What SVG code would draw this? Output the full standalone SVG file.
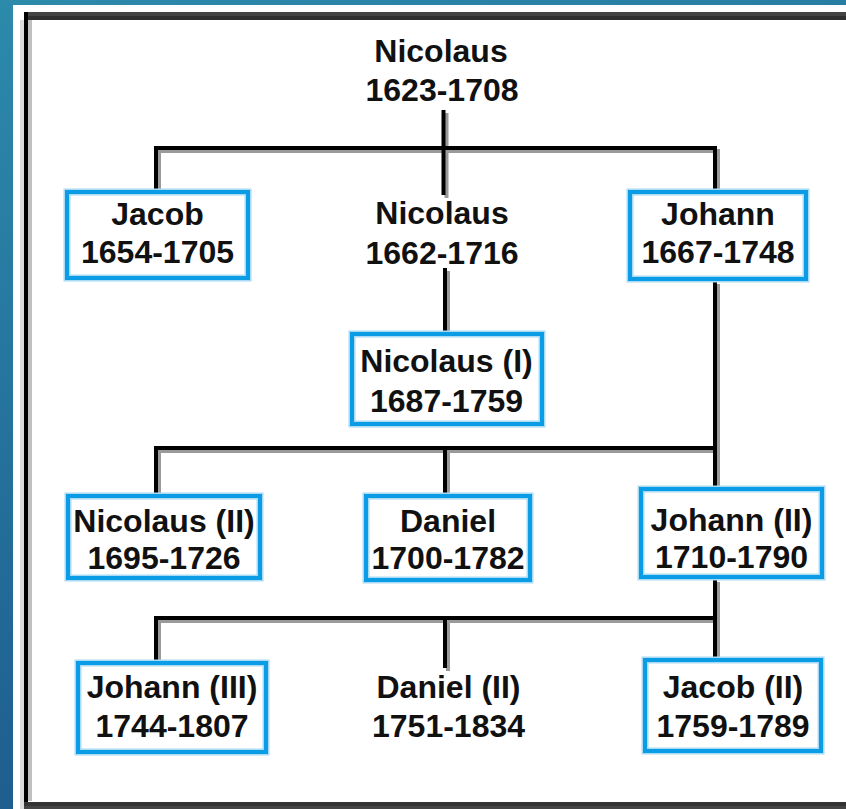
<svg xmlns="http://www.w3.org/2000/svg" xmlns:xlink="http://www.w3.org/1999/xlink" width="846" height="809" viewBox="0 0 846 809">
<style>
.t{font-family:"Liberation Sans",Arial,sans-serif;font-weight:bold;font-size:32px;fill:#111;text-anchor:middle}
.halo{fill:#fff;stroke:#a9daf5;stroke-width:7}
.box{fill:none;stroke:#0a9ce4;stroke-width:4}
.wire{fill:none;stroke:#000;stroke-width:4}
.shadow{fill:none;stroke:#9a9a9a;stroke-width:4}
</style>
<defs>
<linearGradient id="bg" x1="0" y1="0" x2="0.3" y2="1">
<stop offset="0" stop-color="#2c8aab"/>
<stop offset="1" stop-color="#1d5a8d"/>
</linearGradient>
<path id="w" d="M443.5,110V148M154,148H717M156,148V190M443.5,148V195M715,148V190M445,268V332M715,281V487M154,448H717M156,448V494M445,448V494M715,579V658M154,618H717M156,618V661M445,618V668"/>
</defs>
<rect width="846" height="809" fill="url(#bg)"/>
<rect x="13" y="5" width="833" height="804" fill="#fff"/>
<g id="frame">
<path d="M22,20V809" stroke="#dcdcdc" stroke-width="4" fill="none"/>
<path d="M30,20V801" stroke="#c0c0c0" stroke-width="4" fill="none"/>
<path d="M24,14H846" stroke="#444" stroke-width="4" fill="none"/>
<path d="M24,18H846" stroke="#303030" stroke-width="4" fill="none"/>
<path d="M26,12V809" stroke="#000" stroke-width="4" fill="none"/>
<path d="M24,804H846" stroke="#333" stroke-width="4" fill="none"/>
<path d="M24,807.5H846" stroke="#444" stroke-width="3" fill="none"/>
</g>
<g id="connectors">
<use xlink:href="#w" href="#w" class="shadow" transform="translate(3,3)"/>
<use xlink:href="#w" href="#w" class="wire"/>
</g>
<g id="n-nicolaus-1623">
<text class="t" x="441" y="62">Nicolaus</text>
<text class="t" x="442" y="101">1623-1708</text>
</g>
<g id="n-jacob-1654">
<rect class="halo" x="67" y="192" width="181" height="86"/>
<rect class="box" x="67" y="192" width="181" height="86"/>
<text class="t" x="157.5" y="225">Jacob</text>
<text class="t" x="157.5" y="263">1654-1705</text>
</g>
<g id="n-nicolaus-1662">
<text class="t" x="442" y="224">Nicolaus</text>
<text class="t" x="442" y="264">1662-1716</text>
</g>
<g id="n-johann-1667">
<rect class="halo" x="630" y="192" width="176" height="87"/>
<rect class="box" x="630" y="192" width="176" height="87"/>
<text class="t" x="718" y="225">Johann</text>
<text class="t" x="718" y="263">1667-1748</text>
</g>
<g id="n-nicolaus-i">
<rect class="halo" x="352" y="334" width="190" height="90"/>
<rect class="box" x="352" y="334" width="190" height="90"/>
<text class="t" x="446.5" y="372">Nicolaus (I)</text>
<text class="t" x="446.5" y="412">1687-1759</text>
</g>
<g id="n-nicolaus-ii">
<rect class="halo" x="68" y="496" width="192" height="82"/>
<rect class="box" x="68" y="496" width="192" height="82"/>
<text class="t" x="164" y="532">Nicolaus (II)</text>
<text class="t" x="164" y="569">1695-1726</text>
</g>
<g id="n-daniel">
<rect class="halo" x="366" y="496" width="164" height="84"/>
<rect class="box" x="366" y="496" width="164" height="84"/>
<text class="t" x="448" y="532">Daniel</text>
<text class="t" x="448" y="569">1700-1782</text>
</g>
<g id="n-johann-ii">
<rect class="halo" x="641" y="489" width="181" height="88"/>
<rect class="box" x="641" y="489" width="181" height="88"/>
<text class="t" x="731.5" y="531">Johann (II)</text>
<text class="t" x="731.5" y="568">1710-1790</text>
</g>
<g id="n-johann-iii">
<rect class="halo" x="78" y="663" width="188" height="89"/>
<rect class="box" x="78" y="663" width="188" height="89"/>
<text class="t" x="172" y="698">Johann (III)</text>
<text class="t" x="172" y="737">1744-1807</text>
</g>
<g id="n-daniel-ii">
<text class="t" x="448.5" y="698">Daniel (II)</text>
<text class="t" x="448.5" y="737">1751-1834</text>
</g>
<g id="n-jacob-ii">
<rect class="halo" x="645" y="660" width="176" height="91"/>
<rect class="box" x="645" y="660" width="176" height="91"/>
<text class="t" x="733" y="698">Jacob (II)</text>
<text class="t" x="733" y="737">1759-1789</text>
</g>
</svg>
